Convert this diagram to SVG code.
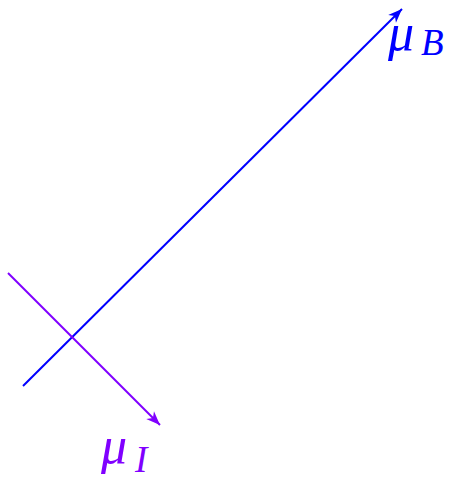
<svg xmlns="http://www.w3.org/2000/svg" width="463" height="483" viewBox="0 0 463 483">
<style>
.lbl{font-family:"Liberation Serif","DejaVu Serif",serif;font-style:italic}
</style>
<defs>
<marker id="ab" markerUnits="userSpaceOnUse" markerWidth="20" markerHeight="20" refX="0" refY="0" orient="auto" overflow="visible">
<path d="M-14,-5.5 L0,0 L-14,5.5 L-10,0 Z" fill="#0000ff"/>
</marker>
<marker id="ap" markerUnits="userSpaceOnUse" markerWidth="20" markerHeight="20" refX="0" refY="0" orient="auto" overflow="visible">
<path d="M-14,-5.5 L0,0 L-14,5.5 L-10,0 Z" fill="#8000ff"/>
</marker>
</defs>
<g id="connectors">
<line x1="23" y1="386" x2="402" y2="9" stroke="#0000ff" stroke-width="2" marker-end="url(#ab)"/>
<line x1="8" y1="273" x2="160" y2="425" stroke="#8000ff" stroke-width="2" marker-end="url(#ap)"/>
</g>
<g id="muB">
<text class="lbl" x="388" y="50" font-size="52" fill="#0000ff">μ</text>
<text class="lbl" x="421" y="55" font-size="37" fill="#0000ff">B</text>
</g>
<g id="muI">
<text class="lbl" x="101" y="463" font-size="52" fill="#8000ff">μ</text>
<text class="lbl" x="135" y="472" font-size="37" fill="#8000ff">I</text>
</g>
</svg>
